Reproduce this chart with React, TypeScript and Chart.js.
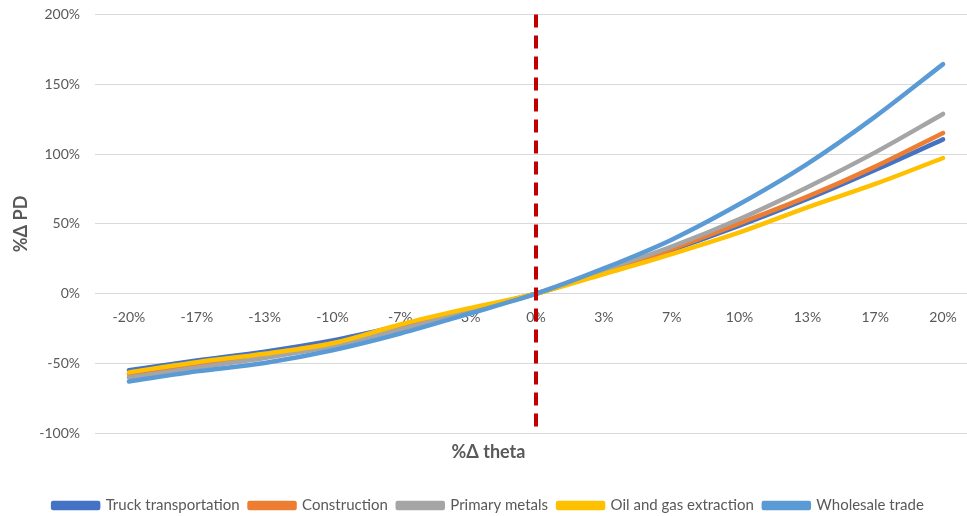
import React, { useEffect, useRef } from "react";
import { Chart, registerables } from "chart.js";

Chart.register(...registerables);

// Shock to theta (x categories)
const thetaLabels = ["-20%", "-17%", "-13%", "-10%", "-7%", "-3%", "0%", "3%", "7%", "10%", "13%", "17%", "20%"];

// %Δ PD per industry, in percent
const truckTransportation = [-54.8, -47.8, -41.5, -33.5, -23, -11.5, 0, 15.5, 31.3, 48.7, 67.8, 88.6, 110.5];
const construction = [-57.5, -50.3, -43.5, -35.5, -24, -12, 0, 15.6, 32, 50.4, 69.5, 91, 115.1];
const primaryMetals = [-60, -52.8, -46, -37.5, -25.5, -13, 0, 17, 33.7, 53.5, 76.3, 101.2, 128.7];
const oilAndGasExtraction = [-56.3, -49, -43, -35.5, -22, -10.5, 0, 14.1, 28.4, 43.9, 61.8, 78.6, 97.2];
const wholesaleTrade = [-62.8, -55.6, -49.6, -40.5, -28.5, -14.5, 0, 18.1, 38.7, 64.2, 93, 126.8, 164.4];

const seriesNames = ["Truck transportation", "Construction", "Primary metals", "Oil and gas extraction", "Wholesale trade"];
const seriesColors = ["#4472C4", "#ED7D31", "#A5A5A5", "#FFC000", "#5B9BD5"];
const seriesValues = [truckTransportation, construction, primaryMetals, oilAndGasExtraction, wholesaleTrade];

// Category where the dashed reference line sits
const baselineCategory = "0%";

const FONT = "Lato, 'Noto Sans', sans-serif";
const TEXT = "#595959";

const baselinePlugin = {
  id: "baselineLine",
  afterDatasetsDraw(chart: any) {
    const { ctx, chartArea, scales } = chart;
    const x = scales.x.getPixelForValue(thetaLabels.indexOf(baselineCategory));
    ctx.save();
    ctx.strokeStyle = "#C00000";
    ctx.lineWidth = 4;
    ctx.setLineDash([13, 8]);
    ctx.beginPath();
    ctx.moveTo(x, chartArea.top);
    ctx.lineTo(x, chartArea.bottom);
    ctx.stroke();
    ctx.restore();
  },
};

export default function App() {
  const canvasRef = useRef<HTMLCanvasElement | null>(null);

  useEffect(() => {
    document.body.style.margin = "0";
    const canvas = canvasRef.current;
    if (!canvas) return;

    const n = seriesValues.length;
    const chart = new Chart(canvas, {
      type: "line",
      data: {
        labels: thetaLabels,
        datasets: seriesValues.map((values, i) => ({
          label: seriesNames[i],
          data: values,
          // later series are painted over earlier ones
          order: n - i,
          borderColor: seriesColors[i],
          backgroundColor: seriesColors[i],
          borderWidth: 4.5,
          borderCapStyle: "round" as const,
          borderJoinStyle: "round" as const,
          pointRadius: 0,
          pointHoverRadius: 0,
          cubicInterpolationMode: "monotone" as const,
          fill: false,
        })),
      },
      options: {
        responsive: true,
        maintainAspectRatio: false,
        animation: false,
        layout: { padding: { left: 0, right: 8, top: 5, bottom: 0 } },
        scales: {
          x: {
            position: { y: 0 } as any,
            offset: true,
            grid: { display: false, drawTicks: false },
            border: { display: false },
            ticks: {
              color: TEXT,
              font: { family: FONT, size: 14 },
              padding: 15,
              maxRotation: 0,
              autoSkip: false,
            },
          },
          y: {
            min: -100,
            max: 200,
            afterFit(scale: any) {
              scale.width = 95;
            },
            grid: { color: "#D9D9D9", lineWidth: 1, drawTicks: false },
            border: { display: false },
            ticks: {
              stepSize: 50,
              color: TEXT,
              font: { family: FONT, size: 14 },
              padding: 15,
              callback: (v: any) => `${v}%`,
            },
            title: {
              display: true,
              text: "%Δ PD",
              color: TEXT,
              font: { family: FONT, size: 18, weight: "bold" },
              padding: { top: 10, bottom: 0 },
            },
          },
        },
        plugins: {
          title: {
            display: true,
            position: "bottom",
            weight: 500,
            text: "%Δ theta",
            color: TEXT,
            font: { family: FONT, size: 18, weight: "bold" },
            padding: { top: 8, bottom: 25 },
          } as any,
          legend: {
            position: "bottom",
            labels: {
              color: TEXT,
              font: { family: FONT, size: 15 },
              boxWidth: 45,
              boxHeight: 5,
              padding: 10,
              sort: (a: any, b: any) => a.datasetIndex - b.datasetIndex,
            },
          },
          tooltip: { enabled: false },
        },
      },
      plugins: [baselinePlugin],
    });

    return () => chart.destroy();
  }, []);

  return (
    <div style={{ width: 967, height: 516, overflow: "hidden", position: "relative", background: "#fff" }}>
      <div style={{ width: 985, height: 532, position: "absolute", left: 0, top: -9 }}>
        <canvas ref={canvasRef} />
      </div>
    </div>
  );
}
